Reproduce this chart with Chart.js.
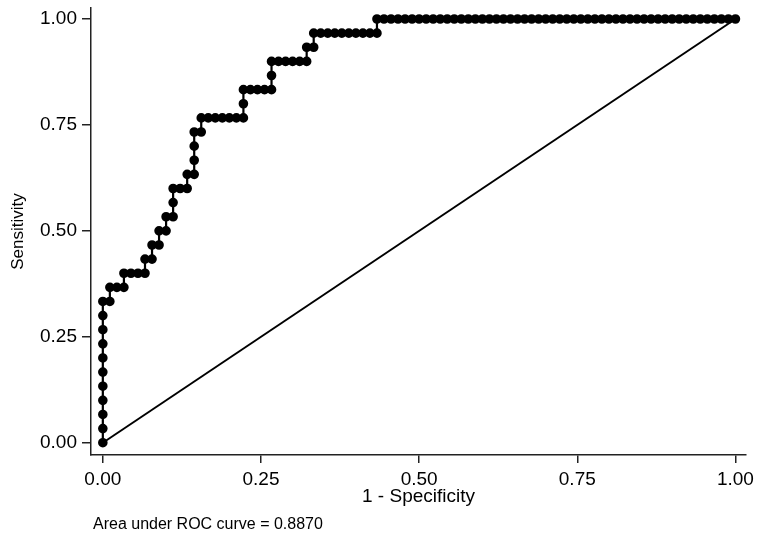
<!DOCTYPE html>
<html>
<head>
<meta charset="utf-8">
<script src="https://cdn.jsdelivr.net/npm/chart.js@4.4.0/dist/chart.umd.min.js"></script>
<style>
  body { margin: 0; background: #fff; }
  #wrap { width: 757px; height: 536px; }
</style>
</head>
<body>
<div id="wrap"><canvas id="rocChart"></canvas></div>
<script>
// counts: 90 negatives, 30 positives
const nNeg = 90
const nPos = 30
const falsePos = [
    0, 0, 0, 0, 0, 0, 0, 0, 0, 0, 0,
    1, 1, 2, 3, 3, 4, 5, 6, 6, 7, 7, 8, 8, 9, 9,
    10, 10, 10, 11, 12, 12, 13, 13, 13, 13, 14, 14,
    15, 16, 17, 18, 19, 20, 20, 20, 21, 22, 23, 24, 24, 24,
    25, 26, 27, 28, 29, 29, 30, 30,
    31, 32, 33, 34, 35, 36, 37, 38, 39, 39,
    40, 41, 42, 43, 44, 45, 46, 47, 48, 49, 50, 51, 52, 53, 54, 55, 56,
    57, 58, 59, 60, 61, 62, 63, 64, 65, 66, 67, 68, 69, 70, 71, 72, 73,
    74, 75, 76, 77, 78, 79, 80, 81, 82, 83, 84, 85, 86, 87, 88, 89, 90
]
const truePos = [
    0, 1, 2, 3, 4, 5, 6, 7, 8, 9, 10,
    10, 11, 11, 11, 12, 12, 12, 12, 13, 13, 14, 14, 15, 15, 16,
    16, 17, 18, 18, 18, 19, 19, 20, 21, 22, 22, 23,
    23, 23, 23, 23, 23, 23, 24, 25, 25, 25, 25, 25, 26, 27,
    27, 27, 27, 27, 27, 28, 28, 29,
    29, 29, 29, 29, 29, 29, 29, 29, 29, 30,
    30, 30, 30, 30, 30, 30, 30, 30, 30, 30, 30, 30, 30, 30, 30, 30, 30,
    30, 30, 30, 30, 30, 30, 30, 30, 30, 30, 30, 30, 30, 30, 30, 30, 30,
    30, 30, 30, 30, 30, 30, 30, 30, 30, 30, 30, 30, 30, 30, 30, 30, 30
]
const refLine = [{x: 0, y: 0}, {x: 1, y: 1}]
const tickVals = [0, 0.25, 0.5, 0.75, 1]
const aucText = 'Area under ROC curve = 0.8870'

const rocPoints = falsePos.map((fp, i) => ({x: fp / nNeg, y: truePos[i] / nPos}))

const noteText = {
    id: 'noteText',
    afterDraw(chart) {
        const ctx = chart.ctx
        ctx.save()
        ctx.font = '16px "Liberation Sans", Arial, sans-serif'
        ctx.fillStyle = '#000'
        ctx.textBaseline = 'alphabetic'
        ctx.fillText(aucText, 93, 529)
        ctx.restore()
    }
}

const axisColor = '#222'
const tickFont = {family: '"Liberation Sans", Arial, sans-serif', size: 19}

new Chart(document.querySelector('#rocChart'), {
    type: 'scatter',
    data: {
        datasets: [
        {
            label: 'ROC',
            data: rocPoints,
            showLine: true,
            borderColor: '#000',
            backgroundColor: '#000',
            borderWidth: 2.2,
            pointRadius: 3.7,
            pointHoverRadius: 3.7,
            clip: false
        },
        {
            label: 'Reference',
            data: refLine,
            showLine: true,
            borderColor: '#000',
            borderWidth: 2,
            pointRadius: 0,
            clip: false
        }
        ]
    },
    options: {
        responsive: true,
        maintainAspectRatio: false,
        animation: false,
        events: [],
        layout: {padding: {top: 8, right: 11, left: 0, bottom: 0}},
        plugins: {legend: {display: false}, tooltip: {enabled: false}},
        scales: {
            x: {
                type: 'linear',
                min: -0.0187,
                max: 1.0167,
                afterFit: s => { s.height = 81; s.paddingLeft = 0; s.paddingRight = 0 },
                afterBuildTicks: s => { s.ticks = tickVals.map(v => ({value: v})) },
                grid: {drawOnChartArea: false, drawTicks: true, tickLength: 8, color: axisColor, lineWidth: 1.5},
                border: {display: true, color: axisColor, width: 1.5},
                ticks: {color: '#000', font: tickFont, padding: 5, maxRotation: 0, callback: v => v.toFixed(2)},
                title: {display: true, text: '1 - Specificity', color: '#000',
                    font: {family: '"Liberation Sans", Arial, sans-serif', size: 19},
                    padding: {top: 0, bottom: 28}}
            },
            y: {
                type: 'linear',
                min: -0.029,
                max: 1.026,
                afterFit: s => { s.width = 91; s.paddingTop = 0; s.paddingBottom = 0 },
                afterBuildTicks: s => { s.ticks = tickVals.map(v => ({value: v})) },
                grid: {drawOnChartArea: false, drawTicks: true, tickLength: 9, color: axisColor, lineWidth: 1.5},
                border: {display: true, color: axisColor, width: 1.5},
                ticks: {color: '#000', font: tickFont, padding: 5, callback: v => v.toFixed(2)},
                title: {display: true, text: 'Sensitivity', color: '#000',
                    font: {family: '"Liberation Sans", Arial, sans-serif', size: 17},
                    padding: {top: 8, bottom: 0}}
            }
        }
    },
    plugins: [noteText]
})
</script>
</body>
</html>
